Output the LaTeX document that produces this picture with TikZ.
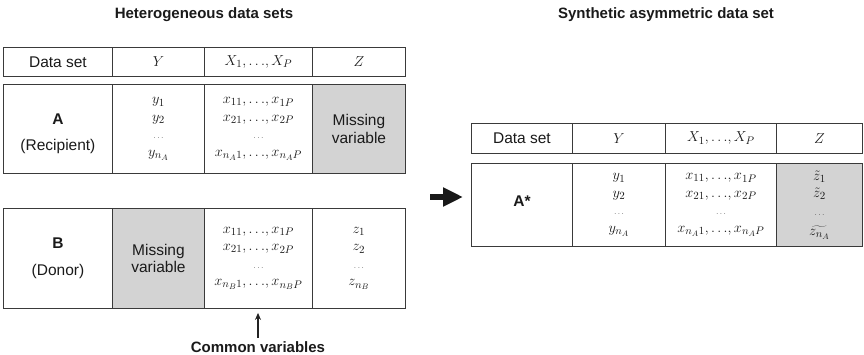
\documentclass[tikz,border=0pt]{standalone}
\usepackage{fontspec}
\setmainfont{Liberation Sans}
\usetikzlibrary{arrows.meta}
\definecolor{rulecol}{HTML}{3A3A3A}
\definecolor{missfill}{HTML}{D3D3D3}
\definecolor{txtcol}{HTML}{1A1A1A}
\tikzset{
  cell/.style={draw=rulecol, line width=0.9pt, inner sep=0pt, anchor=north west,
    align=center, text=txtcol, font=\fontsize{15.5}{17.5}\selectfont},
  vals/.style={font=\fontsize{15.5}{17.5}\selectfont},
  missing/.style={fill=missfill},
  celltext/.style={align=center, inner sep=0pt, text=txtcol, font=\fontsize{15.5}{17.5}\selectfont},
  title/.style={font=\fontsize{15}{18}\selectfont\bfseries, text=txtcol},
}
% \tcell{name}{x1}{y1}{x2}{y2}{extra style}{content}
\newcommand\tcell[7]{%
  \node[cell,#6,minimum width={(#4-#2)*1pt},minimum height={(#5-#3)*1pt}] (#1) at (#2,#3) {#7};}
% compact list separator "a, ..., b"
\newcommand\lsep{,{\ldots},}
% four stacked values: first, second, dots, last
\newcommand\colrows[3]{$#1$\\$#2$\\{\footnotesize$\dots$}\\$#3$}
\begin{document}
\begin{tikzpicture}[x=1pt,y=-1pt]
\useasboundingbox (0,0) rectangle (864,355);

% titles
\node[title] (ltitle) at (204,15) {Heterogeneous data sets};
\node[title] (rtitle) at (666,15) {Synthetic asymmetric data set};

% left header row
\tcell{lh1}{3}{47}{112}{76}{}{Data set}
\tcell{lh2}{112}{47}{204}{76}{vals}{$Y$}
\tcell{lh3}{204}{47}{312}{76}{vals}{$X_1\lsep X_P$}
\tcell{lh4}{312}{47}{405}{76}{vals}{$Z$}

% data set A (recipient)
\tcell{a1}{3}{84}{112}{173}{}{}
\node[celltext] (a1lab) at ([yshift=-5pt]a1.center) {\textbf{A}\\[9pt](Recipient)};
\tcell{a2}{112}{84}{204}{173}{vals}{\colrows{y_1}{y_2}{y_{n_A}}}
\tcell{a3}{204}{84}{312}{173}{vals}{\colrows{x_{11}\lsep x_{1P}}{x_{21}\lsep x_{2P}}{x_{n_A1}\lsep x_{n_AP}}}
\tcell{a4}{312}{84}{405}{173}{missing}{Missing\\variable}

% data set B (donor)
\tcell{b1}{3}{208}{112}{308}{}{\textbf{B}\\[9pt](Donor)}
\tcell{b2}{112}{208}{204}{308}{missing}{Missing\\variable}
\tcell{b3}{204}{208}{312}{308}{vals}{\colrows{x_{11}\lsep x_{1P}}{x_{21}\lsep x_{2P}}{x_{n_B1}\lsep x_{n_BP}}}
\tcell{b4}{312}{208}{405}{308}{vals}{\colrows{z_1}{z_2}{z_{n_B}}}

% common variables label
\node[title] (common) at (258,347) {Common variables};
\draw[rulecol!60!black, line width=1.1pt, -{Stealth[length=7pt,width=6pt]}, shorten >=4pt]
  (common.north) -- (common.north |- b3.south);

% right header row
\tcell{rh1}{471}{123}{572}{153}{}{Data set}
\tcell{rh2}{572}{123}{665}{153}{vals}{$Y$}
\tcell{rh3}{665}{123}{776}{153}{vals}{$X_1\lsep X_P$}
\tcell{rh4}{776}{123}{862}{153}{vals}{$Z$}

% synthetic data set A*
\tcell{s1}{471}{163}{572}{246}{}{}
\node[celltext] (s1lab) at ([yshift=4pt]s1.center) {\textbf{A*}};
\tcell{s2}{572}{163}{665}{246}{vals}{\colrows{y_1}{y_2}{y_{n_A}}}
\tcell{s3}{665}{163}{776}{246}{vals}{\colrows{x_{11}\lsep x_{1P}}{x_{21}\lsep x_{2P}}{x_{n_A1}\lsep x_{n_AP}}}
\tcell{s4}{776}{163}{862}{246}{vals,missing}{$\tilde{z}_1$\\$\tilde{z}_2$\\{\footnotesize$\dots$}\\[3pt]$\widetilde{z_{n_A}}$}

% transfer arrow
\coordinate (bigtail) at (430,197);
\draw[black!90, line width=5.5pt, -{Triangle[length=20pt,width=18pt]}, shorten >=8pt]
  (bigtail) -- (bigtail -| s1.west);
\end{tikzpicture}
\end{document}
